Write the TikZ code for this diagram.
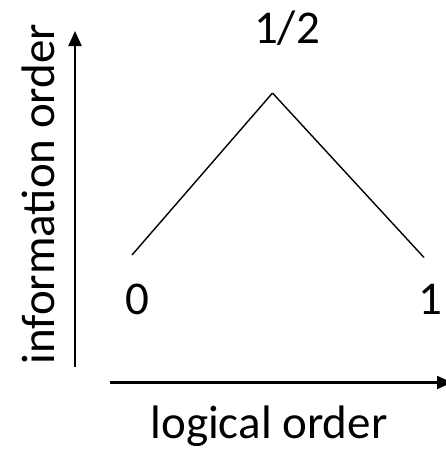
\documentclass[tikz,border=0pt]{standalone}
\usepackage{fontspec}
\setmainfont{Carlito}
\usetikzlibrary{arrows.meta}

\begin{document}
\begin{tikzpicture}[x=1pt,y=-1pt]
\tikzset{lbl/.style={inner sep=0pt,anchor=base,font=\fontsize{47}{56}\selectfont}}
\tikzset{axis/.style={line width=2.2pt,-{Triangle[length=15pt,width=13pt]}}}
\useasboundingbox (0,0) rectangle (446,451);
\coordinate (l) at (132,255);
\coordinate (t) at (272.5,93);
\coordinate (r) at (424,257.5);
\coordinate (vs) at (75,367);
\coordinate (ve) at (75,31);
\coordinate (hs) at (110,382.5);
\coordinate (he) at (452,382.5);
\node (half) at (287,43) [lbl] {1/2};
\node (zero) at (137.5,314) [lbl] {0};
\node (one) at (430,314) [lbl] {1};
\node (xlab) at (269,438) [lbl] {logical order};
\node (ylab) at (55,194) [lbl,rotate=90] {information order};

\path[line width=1.4pt]
(l) edge (t)
(t) edge (r);
\path
(vs) edge[axis] (ve)
(hs) edge[axis] (he);
\end{tikzpicture}
\end{document}
